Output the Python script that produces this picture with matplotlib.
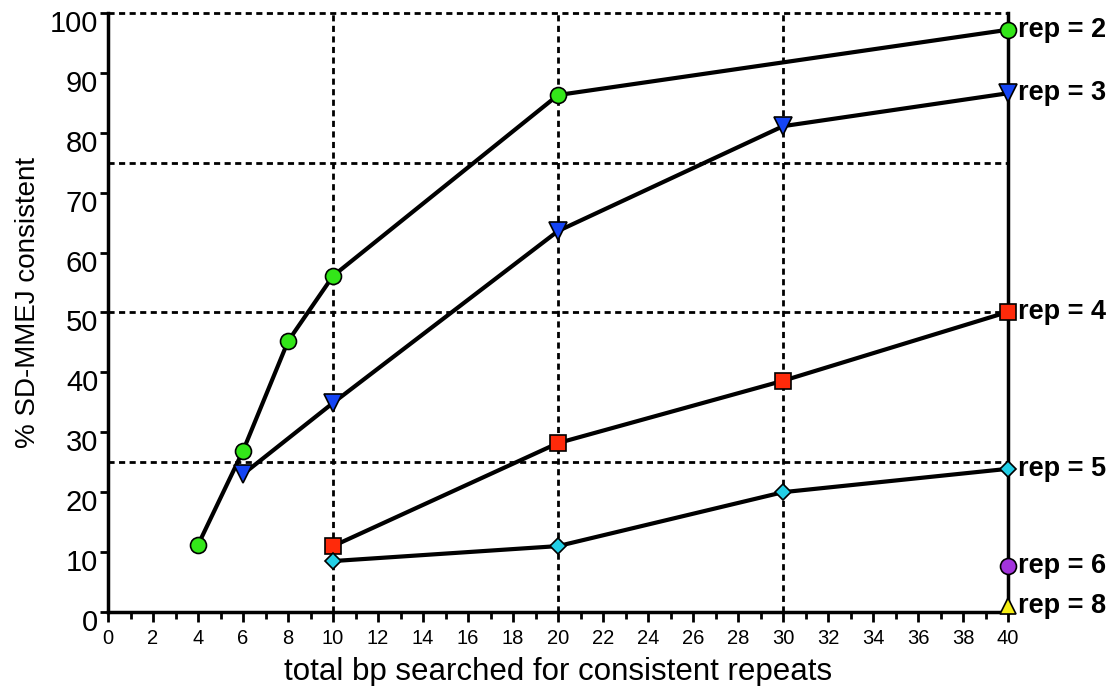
import matplotlib
matplotlib.use("Agg")
import matplotlib.pyplot as plt
import matplotlib.transforms as mtransforms
from matplotlib.ticker import MultipleLocator

plt.rcParams['font.family'] = ['Liberation Sans', 'DejaVu Sans']

rep2_x = [4, 6, 8, 10, 20, 40]
rep2_y = [11.2, 26.9, 45.2, 56.1, 86.3, 97.2]
rep3_x = [6, 10, 20, 30, 40]
rep3_y = [23.0, 34.9, 63.6, 81.1, 86.6]
rep4_x = [10, 20, 30, 40]
rep4_y = [11.0, 28.2, 38.6, 50.1]
rep5_x = [10, 20, 30, 40]
rep5_y = [8.5, 11.0, 20.0, 23.9]
rep6_x = [40]
rep6_y = [7.7]
rep8_x = [40]
rep8_y = [1.0]

series = [
    ("rep = 2", rep2_x, rep2_y, 'o', '#33e619', 11.5),
    ("rep = 3", rep3_x, rep3_y, 'v', '#1444f5', 12.5),
    ("rep = 4", rep4_x, rep4_y, 's', '#ff2a0a', 11.5),
    ("rep = 5", rep5_x, rep5_y, 'D', '#22cfe6', 8.5),
    ("rep = 6", rep6_x, rep6_y, 'o', '#a334dc', 11.5),
    ("rep = 8", rep8_x, rep8_y, '^', '#f6ee14', 11.5),
]

fig = plt.figure(figsize=(11.16, 6.86), dpi=100)
ax = fig.add_axes([0.0968, 0.1079, 0.8065, 0.8732])

ax.set_xlim(0, 40)
ax.set_ylim(0, 100)

# dashed grid
for gx in [10, 20, 30]:
    ax.axvline(gx, color='black', lw=2, ls=(0, (2.2, 1.6)), zorder=1)
for gy in [25, 50, 75, 100]:
    ax.axhline(gy, color='black', lw=2, ls=(0, (2.2, 1.6)), zorder=1, clip_on=False)

for label, xs, ys, m, c, ms in series:
    ax.plot(xs, ys, color='black', lw=3, marker=m, markersize=ms,
            markerfacecolor=c, markeredgecolor='black', markeredgewidth=1.2,
            zorder=3, clip_on=False)
    ax.annotate(label, (xs[-1], ys[-1]), xytext=(7, 0), textcoords='offset points',
                ha='left', va='center', fontsize=19.5, fontweight='bold', annotation_clip=False)

ax.spines['top'].set_visible(False)
for s in ['left', 'bottom', 'right']:
    ax.spines[s].set_linewidth(2.5)
ax.spines['right'].set_zorder(2)

ax.xaxis.set_major_locator(MultipleLocator(2))
ax.xaxis.set_minor_locator(MultipleLocator(1))
ax.yaxis.set_major_locator(MultipleLocator(10))
ax.tick_params(axis='x', which='major', direction='out', length=7, width=2, labelsize=14.5, pad=5)
ax.tick_params(axis='x', which='minor', direction='out', length=5, width=2)
ax.tick_params(axis='y', which='major', direction='out', length=6, width=2, labelsize=21, pad=1)
ax.tick_params(axis='y', right=False)

shift = mtransforms.ScaledTranslation(0, -8 / 100, fig.dpi_scale_trans)
for lbl in ax.get_yticklabels():
    lbl.set_transform(lbl.get_transform() + shift)

ax.set_xlabel("total bp searched for consistent repeats", fontsize=22.5, labelpad=7)
ax.set_ylabel("% SD-MMEJ consistent", fontsize=20, labelpad=12)
ax.yaxis.set_label_coords(-0.074, 0.517)

fig.savefig("out.png", dpi=100)
